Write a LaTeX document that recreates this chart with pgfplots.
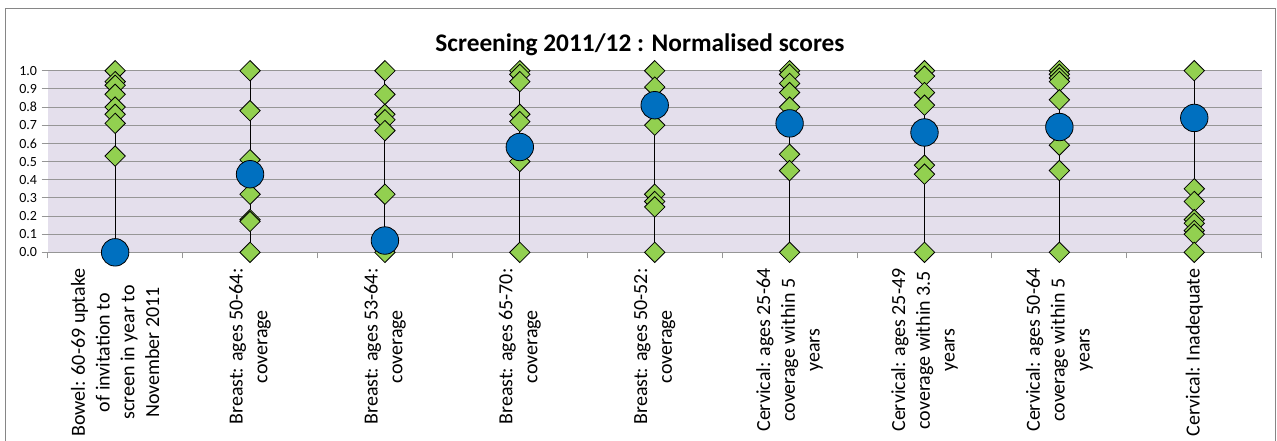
\documentclass[border=0pt]{standalone}
\usepackage{fontspec}
\setmainfont{Carlito}
\usepackage{pgfplots}
\pgfplotsset{compat=1.18}
\definecolor{plotbg}{RGB}{228,223,236}
\definecolor{gridc}{RGB}{150,150,150}
\definecolor{dgreen}{RGB}{146,208,80}
\definecolor{dblue}{RGB}{0,112,192}
\definecolor{borderc}{RGB}{134,134,134}

\pgfplotstableread{
x y
0 1.00
0 0.94
0 0.92
0 0.87
0 0.80
0 0.76
0 0.71
0 0.53
1 1.00
1 0.78
1 0.51
1 0.32
1 0.18
1 0.17
1 0.00
2 1.00
2 0.87
2 0.76
2 0.73
2 0.67
2 0.32
2 0.00
3 1.00
3 0.98
3 0.94
3 0.76
3 0.72
3 0.50
3 0.00
4 1.00
4 0.91
4 0.70
4 0.32
4 0.28
4 0.25
4 0.00
5 1.00
5 0.98
5 0.93
5 0.88
5 0.80
5 0.54
5 0.45
5 0.00
6 1.00
6 0.97
6 0.88
6 0.81
6 0.48
6 0.43
6 0.00
7 1.00
7 0.98
7 0.96
7 0.94
7 0.84
7 0.59
7 0.45
7 0.00
8 1.00
8 0.35
8 0.28
8 0.18
8 0.16
8 0.12
8 0.10
8 0.00
}\others

\pgfplotstableread{
x y
0 0.00
1 0.43
2 0.065
3 0.58
4 0.81
5 0.71
6 0.66
7 0.69
8 0.74
}\selected

\begin{document}
\begin{tikzpicture}
\useasboundingbox (0,0) rectangle (957.75pt,330.75pt);
\draw[borderc, line width=0.75pt] (3.75pt,-20pt) rectangle (956.25pt,324pt);
\node[anchor=base, font=\fontsize{19}{22}\selectfont\bfseries] at (480pt,292pt) {Screening 2011/12 : Normalised scores};
\begin{axis}[
  at={(35.78pt,141.5pt)}, anchor=south west,
  width=910.5pt, height=136.2pt, scale only axis,
  xmin=-0.5, xmax=8.5, ymin=0, ymax=1,
  clip=false,
  axis background/.style={fill=plotbg},
  axis line style={draw=none},
  ytick={0,0.1,0.2,0.3,0.4,0.5,0.6,0.7,0.8,0.9,1.0},
  ymajorgrids,
  grid style={gridc, line width=0.75pt},
  tick align=outside,
  major tick length=4.5pt,
  tick style={gridc, line width=0.75pt},
  ytick pos=left, xtick pos=bottom,
  yticklabel style={font=\fontsize{10.5}{12}\selectfont, /pgf/number format/fixed, /pgf/number format/fixed zerofill, /pgf/number format/precision=1},
  /pgf/number format/assume math mode=true,
  xtick={-0.5,0.5,1.5,2.5,3.5,4.5,5.5,6.5,7.5,8.5},
  xticklabels={},
  extra x ticks={0,1,2,3,4,5,6,7,8},
  extra x tick labels={
    {Bowel: 60-69 uptake\\of invitation to\\screen in year to\\November 2011},
    {Breast: ages 50-64:\\coverage},
    {Breast: ages 53-64:\\coverage},
    {Breast: ages 65-70:\\coverage},
    {Breast: ages 50-52:\\coverage},
    {Cervical: ages 25-64\\coverage within 5\\years},
    {Cervical: ages 25-49\\coverage within 3.5\\years},
    {Cervical: ages 50-64\\coverage within 5\\years},
    {Cervical: Inadequate}},
  extra x tick style={major tick length=0pt, tick style={draw=none},
    xticklabel style={yshift=-12pt, rotate=90, anchor=east, align=center, inner sep=0pt,
      font=\fontsize{15}{18.6}\selectfont}},
]
\addplot[black, line width=0.75pt, unbounded coords=jump] coordinates {
  (0,0) (0,1) (0,nan) (1,0) (1,1) (1,nan) (2,0) (2,1) (2,nan)
  (3,0) (3,1) (3,nan) (4,0) (4,1) (4,nan) (5,0) (5,1) (5,nan)
  (6,0) (6,1) (6,nan) (7,0) (7,1) (7,nan) (8,0) (8,1)};
\addplot[only marks, mark=square*, mark size=5.4pt,
  mark options={rotate=45, fill=dgreen, draw=black, line width=0.6pt}] table[x=x,y=y] {\others};
\addplot[only marks, mark=*, mark size=10.3pt,
  mark options={fill=dblue, draw=black, line width=0.6pt}] table[x=x,y=y] {\selected};
\end{axis}
\end{tikzpicture}
\end{document}
